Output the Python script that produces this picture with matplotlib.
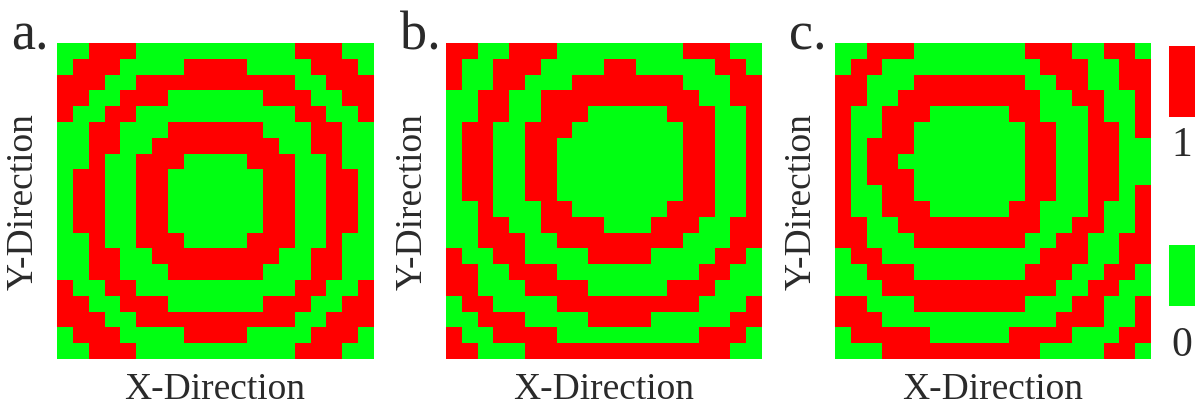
import numpy as np
import matplotlib
matplotlib.use("Agg")
import matplotlib.pyplot as plt
from matplotlib.colors import ListedColormap
from matplotlib.patches import Rectangle

# 20x20 binary state maps (1 = red, 0 = green), rows listed top to bottom
grid_a = [
    "00111000000000011100",
    "01110000111100001110",
    "11100111111111100111",
    "11001110000001110011",
    "10011000000000011001",
    "00110001111110001100",
    "00110011111111001100",
    "00100111000011100100",
    "01100110000001100110",
    "01100110000001100110",
    "01100110000001100110",
    "01100110000001100110",
    "00100111000011100100",
    "00110011111111001100",
    "00110001111110001100",
    "10011000000000011001",
    "11001110000001110011",
    "11100111111111100111",
    "01110000111100001110",
    "00111000000000011100",
]

grid_b = [
    "11001110000000011100",
    "10011100001100000110",
    "10011000111111100011",
    "00110011111111110011",
    "00110011100000111001",
    "01100111000000011001",
    "01100110000000011001",
    "01100110000000011001",
    "01100110000000011001",
    "01100110000000011001",
    "00100011000000111001",
    "00110011110001110011",
    "00111001111111100011",
    "10011000011110000110",
    "11001110000000001100",
    "11000111100000111000",
    "01100001111111110001",
    "00111000011110000011",
    "10011110000000001110",
    "11000111111111111100",
]

grid_c = [
    "00111000000011100110",
    "01100000000001110011",
    "11000111111100110011",
    "11001111111110011001",
    "10011100000110001001",
    "10011000000011001101",
    "10111000000011001100",
    "10110000000011001100",
    "10111000000011001100",
    "10011000000011001101",
    "10011100000110001001",
    "11001111111110011001",
    "11000111111100110011",
    "01100000000001110011",
    "00111000000011100110",
    "00011111111111001100",
    "11000111111100011001",
    "11100000000000111001",
    "01111100000111100011",
    "00011111111110000110",
]

panel_labels = ["a.", "b.", "c."]
panel_grids = [grid_a, grid_b, grid_c]
state_labels = ["1", "0"]

GREEN = "#00ff12"
RED = "#ff0000"
TEXT = "#2a2a2a"

plt.rcParams["font.family"] = ["Liberation Serif", "DejaVu Serif"]

fig = plt.figure(figsize=(12.01, 4.10), dpi=100)
W, H = 1201, 410


def px_axes(x0, y0, x1, y1):
    """Axes placed by pixel box (top-left origin)."""
    return fig.add_axes([x0 / W, 1 - y1 / H, (x1 - x0) / W, (y1 - y0) / H])


cmap = ListedColormap([GREEN, RED])
lefts = [57, 446, 835]
size = 316
top = 44

for left, grid, lab in zip(lefts, panel_grids, panel_labels):
    ax = px_axes(left, top, left + size, top + size)
    arr = np.array([[int(ch) for ch in row] for row in grid])
    ax.imshow(arr, cmap=cmap, vmin=0, vmax=1, interpolation="nearest",
              aspect="auto")
    ax.set_xticks([])
    ax.set_yticks([])
    for s in ax.spines.values():
        s.set_visible(False)
    ax.set_xlabel("X-Direction", fontsize=27, color=TEXT, labelpad=9)
    ax.set_ylabel("Y-Direction", fontsize=27, color=TEXT, labelpad=12)
    fig.text((left - 46) / W, 1 - 50 / H, lab, fontsize=39, color=TEXT,
             ha="left", va="baseline")

# two-state key on the right
kax = fig.add_axes([0, 0, 1, 1], facecolor="none")
kax.set_xlim(0, W)
kax.set_ylim(H, 0)
kax.axis("off")
key_colors = [RED, GREEN]
key_tops = [47, 246]
for col, ytop, lab in zip(key_colors, key_tops, state_labels):
    kax.add_patch(Rectangle((1169, ytop), 26, 71 if col == RED else 61,
                            facecolor=col, edgecolor="none"))
label_y = [146, 346]
for ly, lab in zip(label_y, state_labels):
    kax.text(1182, ly, lab, fontsize=30, color=TEXT, ha="center", va="center")

fig.savefig("out.png", dpi=100)
